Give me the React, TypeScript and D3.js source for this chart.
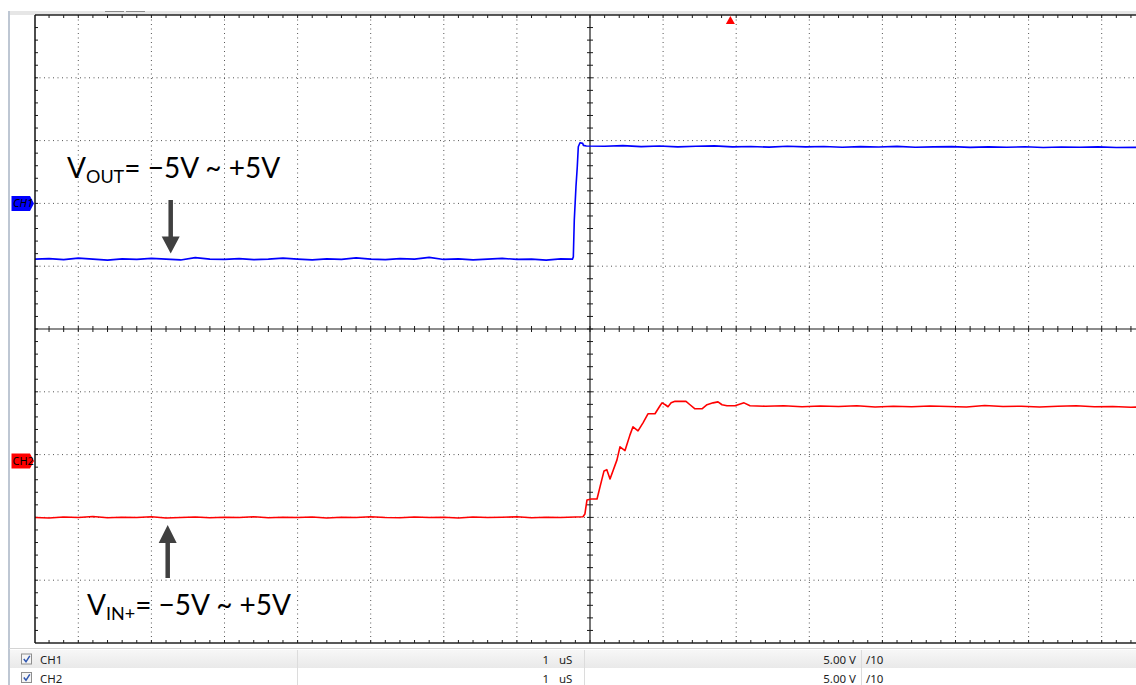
import React from 'react';
import * as d3 from 'd3';

const W = 1136;
const H = 685;

// screen geometry (oscilloscope graticule)
const PLOT_LEFT = 35;
const PLOT_TOP = 15;
const PLOT_BOTTOM = 643;
const PLOT_RIGHT = 1136;
const CENTER_X = 590;
const DIV_X = 73.1;
const CENTER_Y = 329;
const DIV_Y = 62.8;

// settings
const voltsPerDiv = 5;
const ch1Offset = 2.0; // divisions
const ch2Offset = -2.1; // divisions
const triggerTime = 1.92; // µs

// CH1 (VOUT) – time in µs, value in volts
const ch1Time = [
  -7.6, -7.4, -7.2, -7.0, -6.8, -6.6, -6.4, -6.2, -6.0, -5.8, -5.6, -5.4, -5.2, -5.0, -4.8, -4.6, -4.4, -4.2, -4.0,
  -3.8, -3.6, -3.4, -3.2, -3.0, -2.8, -2.6, -2.4, -2.2, -2.0, -1.8, -1.6, -1.4, -1.2, -1.0, -0.8, -0.6, -0.4, -0.24,
  -0.228, -0.215, -0.192, -0.174, -0.16, -0.137, -0.1, -0.09, -0.05,
  0.2, 0.45, 0.7, 0.95, 1.2, 1.45, 1.7, 1.95, 2.2, 2.45, 2.7, 2.95, 3.2, 3.45, 3.7, 3.95, 4.2, 4.45, 4.7, 4.95,
  5.2, 5.45, 5.7, 5.95, 6.2, 6.45, 6.7, 6.95, 7.2, 7.5,
];
const ch1Volts = [
  -4.44, -4.4, -4.48, -4.36, -4.44, -4.52, -4.42, -4.46, -4.38, -4.44, -4.5, -4.32, -4.44, -4.46, -4.4, -4.48, -4.44, -4.36, -4.44,
  -4.5, -4.42, -4.46, -4.34, -4.44, -4.48, -4.4, -4.44, -4.3, -4.46, -4.42, -4.5, -4.44, -4.38, -4.46, -4.44, -4.52, -4.42, -4.44,
  -4.26, -1.33, 1.32, 2.92, 4.51, 4.83, 4.78, 4.62, 4.57,
  4.55, 4.6, 4.52, 4.57, 4.5, 4.55, 4.58, 4.5, 4.53, 4.48, 4.55, 4.5, 4.53, 4.47, 4.52, 4.49, 4.54, 4.47, 4.5, 4.52,
  4.46, 4.5, 4.47, 4.51, 4.45, 4.49, 4.47, 4.5, 4.45, 4.46,
];

// CH2 (VIN+) – time in µs, value in volts
const ch2Time = [
  -7.6, -7.4, -7.2, -7.0, -6.8, -6.6, -6.4, -6.2, -6.0, -5.8, -5.6, -5.4, -5.2, -5.0, -4.8, -4.6, -4.4, -4.2, -4.0,
  -3.8, -3.6, -3.4, -3.2, -3.0, -2.8, -2.6, -2.4, -2.2, -2.0, -1.8, -1.6, -1.4, -1.2, -1.0, -0.8, -0.6, -0.4, -0.2,
  -0.096, -0.07, -0.041, 0.02, 0.096, 0.137, 0.192, 0.23, 0.274, 0.369, 0.41, 0.479, 0.547, 0.588, 0.657,
  0.725, 0.793, 0.889, 0.958, 0.985, 1.03, 1.067, 1.11, 1.163, 1.313, 1.368, 1.436, 1.532, 1.601,
  1.683, 1.751, 1.806, 1.874, 1.984, 2.107, 2.189,
  2.4, 2.65, 2.9, 3.15, 3.4, 3.65, 3.9, 4.15, 4.4, 4.65, 4.9, 5.15, 5.4, 5.65, 5.9, 6.15, 6.4, 6.65, 6.9, 7.15, 7.4, 7.5,
];
const ch2Volts = [
  -4.51, -4.55, -4.47, -4.51, -4.43, -4.53, -4.49, -4.51, -4.45, -4.55, -4.51, -4.47, -4.53, -4.49, -4.51, -4.45, -4.53, -4.49, -4.51,
  -4.47, -4.55, -4.49, -4.51, -4.45, -4.51, -4.53, -4.47, -4.51, -4.49, -4.55, -4.47, -4.51, -4.49, -4.45, -4.53, -4.49, -4.51, -4.47,
  -4.45, -4.23, -3.11, -3.03, -3.03, -2.07, -0.8, -0.7, -1.44, 0.08, 1.12, 0.82, 2.07, 2.71, 2.39,
  3.03, 3.75, 3.75, 4.39, 4.62, 4.47, 4.31, 4.62, 4.74, 4.74, 4.47, 4.15, 4.15, 4.47,
  4.62, 4.7, 4.47, 4.39, 4.39, 4.62, 4.39,
  4.35, 4.39, 4.31, 4.37, 4.33, 4.39, 4.29, 4.35, 4.31, 4.37, 4.33, 4.29, 4.41, 4.33, 4.35, 4.29, 4.35, 4.39, 4.31, 4.33, 4.27, 4.29,
];

// status bar
const statusChannels = ['CH1', 'CH2'];
const statusTimebase = ['1', '1'];
const statusUnits = ['uS', 'uS'];
const statusScale = ['5.00 V', '5.00 V'];
const statusProbe = ['/10', '/10'];

const x = d3.scaleLinear().domain([0, 1]).range([CENTER_X, CENTER_X + DIV_X]); // µs
const y = d3.scaleLinear().domain([0, 1]).range([CENTER_Y, CENTER_Y - DIV_Y]); // divisions

const mkLine = (offset: number) =>
  d3
    .line<[number, number]>()
    .x((d) => x(d[0]))
    .y((d) => y(d[1] / voltsPerDiv + offset));

const ch1Path = mkLine(ch1Offset)(ch1Time.map((t, i) => [t, ch1Volts[i]] as [number, number])) || '';
const ch2Path = mkLine(ch2Offset)(ch2Time.map((t, i) => [t, ch2Volts[i]] as [number, number])) || '';

const vGrid = d3.range(-8, 9).map((k) => x(k)).filter((px) => px > PLOT_LEFT + 2 && px < PLOT_RIGHT);
const hGrid = d3.range(-4, 5).map((k) => y(k));
const xMinor = d3.range(-40, 41).map((k) => x(k / 5)).filter((px) => px > PLOT_LEFT + 1 && px < PLOT_RIGHT);
const yMinor = d3.range(-25, 26).map((k) => y(k / 5)).filter((py) => py > PLOT_TOP + 1 && py < PLOT_BOTTOM - 1);

const ANN = '#404040';
const annFont = 'Lato, "Open Sans", sans-serif';
const uiFont = '"Noto Sans", "Open Sans", sans-serif';

export default function App() {
  const trigX = x(triggerTime);
  const ch1TagY = y(ch1Offset);
  const ch2TagY = y(ch2Offset);
  return (
    <svg width={W} height={H} style={{ position: 'absolute', left: 0, top: 0, background: '#fff' }}>
      <defs>
        <clipPath id="plotClip">
          <rect x={PLOT_LEFT} y={PLOT_TOP} width={PLOT_RIGHT - PLOT_LEFT} height={PLOT_BOTTOM - PLOT_TOP} />
        </clipPath>
        <linearGradient id="rowGrad" x1="0" y1="0" x2="0" y2="1">
          <stop offset="0" stopColor="#f7f7f7" />
          <stop offset="1" stopColor="#e9e9e9" />
        </linearGradient>
      </defs>
      <rect x={0} y={0} width={W} height={H} fill="#fff" />
      {/* top band */}
      <rect x={10} y={11} width={W - 10} height={4} fill="#e6e6e6" />
      <line x1={105} x2={124} y1={11.5} y2={11.5} stroke="#8a8a8a" strokeWidth={1} />
      <line x1={126} x2={145} y1={11.5} y2={11.5} stroke="#8a8a8a" strokeWidth={1} />
      {/* left window edge */}
      <line x1={9} x2={9} y1={11} y2={H} stroke="#a9b4c4" strokeWidth={1.5} />

      {/* grid */}
      <g clipPath="url(#plotClip)">
        {vGrid.map((px, i) =>
          Math.abs(px - CENTER_X) < 1 ? null : (
            <line key={'v' + i} x1={px} x2={px} y1={PLOT_TOP} y2={PLOT_BOTTOM} stroke="#555" strokeWidth={1} strokeDasharray="1 3.5" />
          )
        )}
        {hGrid.map((py, i) =>
          Math.abs(py - CENTER_Y) < 1 ? null : (
            <line key={'h' + i} x1={PLOT_LEFT} x2={PLOT_RIGHT} y1={py} y2={py} stroke="#555" strokeWidth={1} strokeDasharray="1 3.5" />
          )
        )}
        <line x1={CENTER_X} x2={CENTER_X} y1={PLOT_TOP} y2={PLOT_BOTTOM} stroke="#1a1a1a" strokeWidth={1.2} />
        <line x1={PLOT_LEFT} x2={PLOT_RIGHT} y1={CENTER_Y} y2={CENTER_Y} stroke="#1a1a1a" strokeWidth={1.2} />
        {xMinor.map((px, i) => (
          <g key={'xm' + i}>
            <line x1={px} x2={px} y1={PLOT_TOP} y2={PLOT_TOP + 3} stroke="#1a1a1a" />
            <line x1={px} x2={px} y1={PLOT_BOTTOM - 3} y2={PLOT_BOTTOM} stroke="#1a1a1a" />
            <line x1={px} x2={px} y1={CENTER_Y - 3} y2={CENTER_Y + 3} stroke="#1a1a1a" />
          </g>
        ))}
        {yMinor.map((py, i) => (
          <g key={'ym' + i}>
            <line x1={PLOT_LEFT} x2={PLOT_LEFT + 3} y1={py} y2={py} stroke="#1a1a1a" />
            <line x1={CENTER_X - 3} x2={CENTER_X + 3} y1={py} y2={py} stroke="#1a1a1a" />
          </g>
        ))}
        {/* traces */}
        <path d={ch1Path} fill="none" stroke="#0000ff" strokeWidth={1.6} strokeLinejoin="round" />
        <path d={ch2Path} fill="none" stroke="#ff0000" strokeWidth={1.6} strokeLinejoin="round" />
      </g>
      {/* frame */}
      <line x1={PLOT_LEFT} x2={PLOT_RIGHT} y1={PLOT_TOP} y2={PLOT_TOP} stroke="#222" strokeWidth={1.5} />
      <line x1={PLOT_LEFT} x2={PLOT_RIGHT} y1={PLOT_BOTTOM} y2={PLOT_BOTTOM} stroke="#222" strokeWidth={1.5} />
      <line x1={PLOT_LEFT} x2={PLOT_LEFT} y1={PLOT_TOP} y2={PLOT_BOTTOM} stroke="#111" strokeWidth={1.5} />

      {/* trigger marker */}
      <path d={`M${trigX - 4.5},${PLOT_TOP + 9} L${trigX + 4.5},${PLOT_TOP + 9} L${trigX},${PLOT_TOP + 1} Z`} fill="#ff0000" />

      {/* channel tags */}
      <path d={`M11.5,${ch1TagY - 7.5} L30,${ch1TagY - 7.5} L34,${ch1TagY} L30,${ch1TagY + 7.5} L11.5,${ch1TagY + 7.5} Z`} fill="#0000ff" />
      <text x={13} y={ch1TagY + 4} fontSize={11} fontStyle="italic" fontFamily={uiFont} fill="#000">CH1</text>
      <path d={`M11.5,${ch2TagY - 7.5} L30,${ch2TagY - 7.5} L34,${ch2TagY} L30,${ch2TagY + 7.5} L11.5,${ch2TagY + 7.5} Z`} fill="#ff0000" />
      <text x={12.5} y={ch2TagY + 4} fontSize={11} fontFamily={uiFont} fill="#000">CH2</text>

      {/* annotations */}
      <text x={67} y={178} fontFamily={annFont} fontSize={28} fill="#000">
        <tspan>V</tspan>
        <tspan fontSize={18} dy={4.5}>OUT</tspan>
        <tspan dy={-4.5}>= −5V ~ +5V</tspan>
      </text>
      <line x1={170.7} x2={170.7} y1={200} y2={240} stroke={ANN} strokeWidth={4.5} />
      <path d="M161.7,236.5 L179.7,236.5 L170.7,253.5 Z" fill={ANN} />

      <text x={87} y={615} fontFamily={annFont} fontSize={28} fill="#000">
        <tspan>V</tspan>
        <tspan fontSize={18} dy={4.5}>IN+</tspan>
        <tspan dy={-4.5}>= −5V ~ +5V</tspan>
      </text>
      <line x1={167.7} x2={167.7} y1={539} y2={578} stroke={ANN} strokeWidth={4.5} />
      <path d="M158.7,543 L176.7,543 L167.7,525 Z" fill={ANN} />

      {/* status bar */}
      <line x1={9} x2={W} y1={648.5} y2={648.5} stroke="#d4d4d4" />
      <rect x={10} y={650} width={W - 10} height={18} fill="url(#rowGrad)" />
      <rect x={10} y={668} width={W - 10} height={17} fill="#fff" />
      {[297.5, 584.5, 861.5].map((sx) => (
        <line key={sx} x1={sx} x2={sx} y1={650} y2={H} stroke="#dcdcdc" />
      ))}
      {statusChannels.map((ch, i) => {
        const top = 650 + i * 18.5;
        const base = top + 14;
        return (
          <g key={ch}>
            <rect x={21.5} y={top + 4} width={10} height={10} fill="#f5f5f5" stroke="#8e8e8e" />
            <path d={`M23.8,${top + 9} L26,${top + 11.8} L29.8,${top + 5.8}`} fill="none" stroke="#2f56b0" strokeWidth={1.5} />
            <text x={40} y={base} fontFamily={uiFont} fontSize={11.5} fill="#1e1e1e">{ch}</text>
            <text x={549} y={base} textAnchor="end" fontFamily={uiFont} fontSize={11.5} fill="#1e1e1e">{statusTimebase[i]}</text>
            <text x={559} y={base} fontFamily={uiFont} fontSize={11.5} fill="#1e1e1e">{statusUnits[i]}</text>
            <text x={856} y={base} textAnchor="end" fontFamily={uiFont} fontSize={11.5} fill="#1e1e1e">{statusScale[i]}</text>
            <text x={866} y={base} fontFamily={uiFont} fontSize={11.5} fill="#1e1e1e">{statusProbe[i]}</text>
          </g>
        );
      })}
    </svg>
  );
}
